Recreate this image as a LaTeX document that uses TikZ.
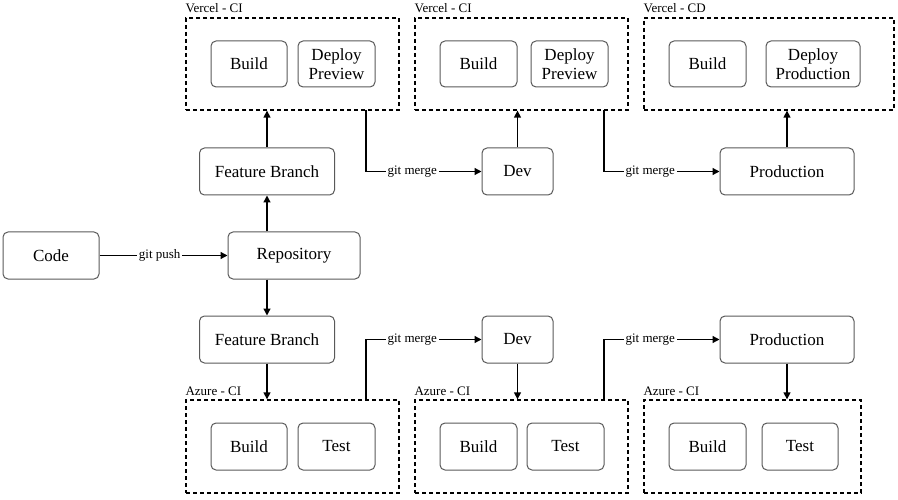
\documentclass[tikz,border=0pt]{standalone}
\usepackage{fontspec}
\setmainfont{Liberation Serif}
\usetikzlibrary{arrows.meta}
\begin{document}
\begin{tikzpicture}[x=1pt,y=-1pt,
  box/.style={draw=black!65, rounded corners=5pt, line width=1pt, font=\fontsize{17}{19}\selectfont, align=center, inner sep=0pt},
  grp/.style={draw, line width=1.3pt, dash pattern=on 4pt off 3pt, inner sep=0pt},
  arr/.style={-{Triangle[length=7pt,width=7pt]}, line width=1.3pt},
  lbl/.style={font=\fontsize{13}{14}\selectfont, fill=white, inner sep=2pt},
  grpcaption/.style={font=\fontsize{13}{14}\selectfont, anchor=south west, inner sep=0pt}]
\useasboundingbox (0,0) rectangle (898,500);
% top groups
\node[grp, minimum width=213, minimum height=92] (g1) at (292.5,64) {};
\node[grp, minimum width=213, minimum height=92] (g2) at (521.5,64) {};
\node[grp, minimum width=250, minimum height=92] (g3) at (769,64) {};
\node[grpcaption] (c1) at ([yshift=4]g1.north west) {Vercel - CI};
\node[grpcaption] (c2) at ([yshift=4]g2.north west) {Vercel - CI};
\node[grpcaption] (c3) at ([yshift=4]g3.north west) {Vercel - CD};
\node[box, minimum width=76, minimum height=46] (b1) at (249,64) {Build};
\node[box, minimum width=77, minimum height=46] (d1) at (336.5,64) {Deploy\\Preview};
\node[box, minimum width=77, minimum height=46] (b2) at (478.5,64) {Build};
\node[box, minimum width=77, minimum height=46] (d2) at (569.5,64) {Deploy\\Preview};
\node[box, minimum width=77, minimum height=46] (b3) at (707.5,64) {Build};
\node[box, minimum width=94, minimum height=46] (d3) at (813,64) {Deploy\\Production};
% bottom groups
\node[grp, minimum width=213, minimum height=93] (a1) at (292.5,446.5) {};
\node[grp, minimum width=213, minimum height=93] (a2) at (521.5,446.5) {};
\node[grp, minimum width=217, minimum height=93] (a3) at (752.5,446.5) {};
\node[grpcaption] (e1) at ([yshift=4]a1.north west) {Azure - CI};
\node[grpcaption] (e2) at ([yshift=4]a2.north west) {Azure - CI};
\node[grpcaption] (e3) at ([yshift=4]a3.north west) {Azure - CI};
\node[box, minimum width=76, minimum height=47] (ab1) at (249,446.5) {Build};
\node[box, minimum width=77, minimum height=47] (at1) at (336.5,446.5) {Test};
\node[box, minimum width=77, minimum height=47] (ab2) at (478.5,446.5) {Build};
\node[box, minimum width=77, minimum height=47] (at2) at (565.5,446.5) {Test};
\node[box, minimum width=77, minimum height=47] (ab3) at (707.5,446.5) {Build};
\node[box, minimum width=76, minimum height=47] (at3) at (800,446.5) {Test};
% main nodes
\node[box, minimum width=96, minimum height=47] (code) at (51,255.5) {Code};
\node[box, minimum width=132, minimum height=47] (repo) at (294,255.5) {Repository};
\node[box, minimum width=135, minimum height=47] (fb1) at (267,171.5) {Feature Branch};
\node[box, minimum width=71, minimum height=47] (dev1) at (517.5,171.5) {Dev};
\node[box, minimum width=134, minimum height=47] (prod1) at (787,171.5) {Production};
\node[box, minimum width=135, minimum height=47] (fb2) at (267,339.5) {Feature Branch};
\node[box, minimum width=71, minimum height=47] (dev2) at (517.5,339.5) {Dev};
\node[box, minimum width=134, minimum height=47] (prod2) at (787,339.5) {Production};
% connectors
\draw[arr] (code.east) -- (repo.west) node[lbl, pos=0.47] {git push};
\draw[arr] (fb1.south |- repo.north) -- (fb1.south);
\draw[arr] (fb2.north |- repo.south) -- (fb2.north);
\draw[arr] (fb1.north) -- (fb1.north |- g1.south);
\draw[arr] (dev1.north) -- (dev1.north |- g2.south);
\draw[arr] (prod1.north) -- (prod1.north |- g3.south);
\draw[arr] (fb2.south) -- (fb2.south |- a1.north);
\draw[arr] (dev2.south) -- (dev2.south |- a2.north);
\draw[arr] (prod2.south) -- (prod2.south |- a3.north);
\coordinate (m1) at (366,110);
\coordinate (m2) at (604,110);
\coordinate (m3) at (366,400);
\coordinate (m4) at (604,400);
\draw[arr] (m1) |- (dev1.west) node[lbl, pos=0.7] {git merge};
\draw[arr] (m2) |- (prod1.west) node[lbl, pos=0.7] {git merge};
\draw[arr] (m3) |- (dev2.west) node[lbl, pos=0.7] {git merge};
\draw[arr] (m4) |- (prod2.west) node[lbl, pos=0.7] {git merge};
\end{tikzpicture}
\end{document}
